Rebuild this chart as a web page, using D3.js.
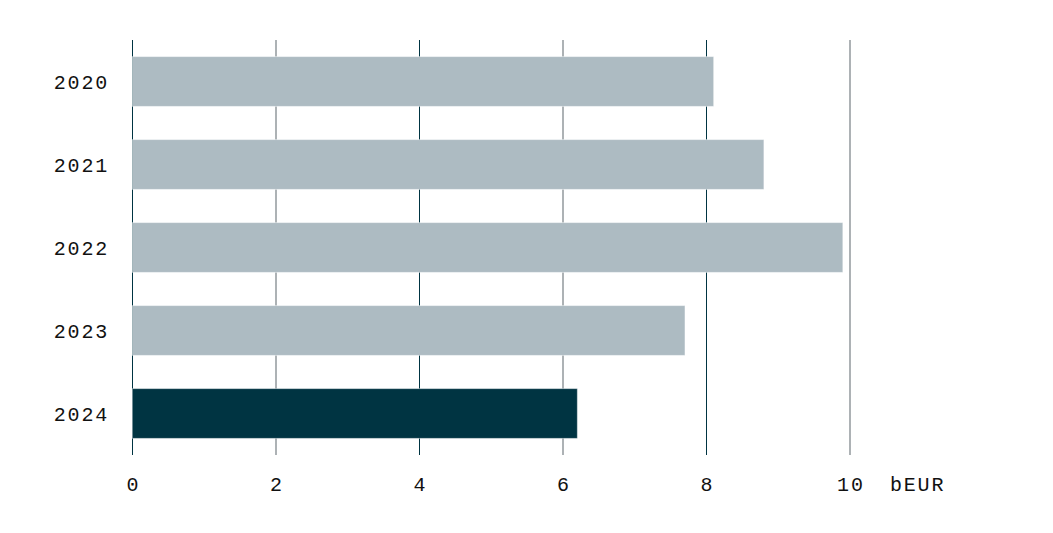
<!DOCTYPE html>
<html>
<head>
<meta charset="utf-8">
<script src="https://cdn.jsdelivr.net/npm/d3@7"></script>
<style>
  body { margin: 0; background: #fff; }
  text { font-family: "Liberation Mono", monospace; font-size: 20px; fill: #111; letter-spacing: 1.8px; }
</style>
</head>
<body>
<svg id="chart"></svg>
<script>
var years = ["2020", "2021", "2022", "2023", "2024"];
var values = [8.1, 8.8, 9.9, 7.7, 6.2];
var ticks = [0, 2, 4, 6, 8, 10];
var unit = "bEUR";
var highlight = "2024";

var width = 1053, height = 533;
var svg = d3.select("#chart").attr("width", width).attr("height", height);

var data = years.map(function(y, i){ return {year: y, value: values[i]}; });

var x = d3.scaleLinear().domain([0, 10]).range([132.5, 850]);
var y = d3.scaleBand().domain(years).range([40, 455]).paddingInner(0.4).paddingOuter(0.2);

// gridlines: alternating dark thin / grey thicker
svg.append("g").selectAll("line")
  .data(ticks)
  .enter().append("line")
    .attr("x1", function(d){ return x(d); })
    .attr("x2", function(d){ return x(d); })
    .attr("y1", 40)
    .attr("y2", 455)
    .attr("stroke", function(d, i){ return i % 2 === 0 ? "#003442" : "#adb2b5"; })
    .attr("stroke-width", function(d, i){ return i % 2 === 0 ? 1 : 2; });

svg.append("g").selectAll("rect")
  .data(data)
  .enter().append("rect")
    .attr("x", x(0))
    .attr("y", function(d){ return y(d.year); })
    .attr("width", function(d){ return x(d.value) - x(0); })
    .attr("height", y.bandwidth())
    .attr("fill", function(d){ return d.year === highlight ? "#003442" : "#adbbc2"; })
    .attr("stroke", "rgba(255,255,255,0.45)")
    .attr("stroke-width", 1);

// year labels
svg.append("g").selectAll("text")
  .data(years)
  .enter().append("text")
    .attr("x", 109)
    .attr("y", function(d){ return y(d) + y.bandwidth() / 2; })
    .attr("dy", "0.35em")
    .attr("text-anchor", "end")
    .text(function(d){ return d; });

// x tick labels
svg.append("g").selectAll("text")
  .data(ticks)
  .enter().append("text")
    .attr("x", function(d){ return x(d) + 0.9; })
    .attr("y", 491)
    .attr("text-anchor", "middle")
    .text(function(d){ return d; });

svg.append("text")
  .attr("x", x(10) + 40)
  .attr("y", 491)
  .text(unit);
</script>
</body>
</html>
